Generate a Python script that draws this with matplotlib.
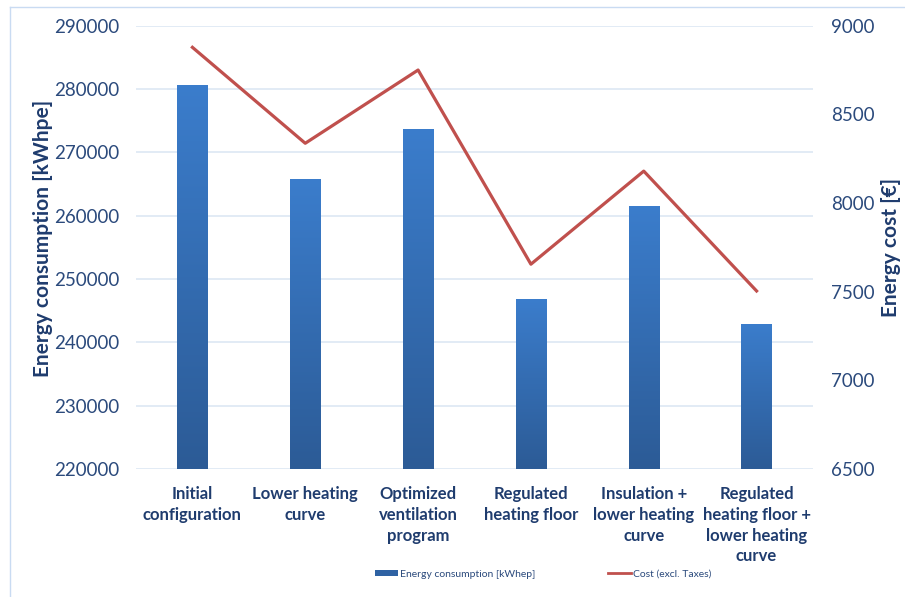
import matplotlib.pyplot as plt
import numpy as np
from matplotlib.colors import LinearSegmentedColormap
from matplotlib.lines import Line2D
from matplotlib.patches import Patch

plt.rcParams['font.family'] = ['Lato', 'DejaVu Sans']

categories = ['Initial\nconfiguration', 'Lower heating\ncurve',
              'Optimized\nventilation\nprogram', 'Regulated\nheating floor',
              'Insulation +\nlower heating\ncurve',
              'Regulated\nheating floor +\nlower heating\ncurve']
consumption = [280700, 265800, 273700, 246900, 261500, 242900]
cost = [8878, 8337, 8750, 7655, 8180, 7504]

text_col = '#2b4a7c'
label_col = '#1f3c6e'
grid_col = '#dde7f3'
line_col = '#c0504d'

fig = plt.figure(figsize=(9.05, 5.97), dpi=100)
ax = fig.add_axes([136 / 905, 1 - 469 / 597, 677 / 905, 443.3 / 597])
ax2 = ax.twinx()

x = np.arange(len(categories))
bars = ax.bar(x, consumption, width=0.27, color='#3a78c4', zorder=2)

# vertical gradient on the bars
cmap = LinearSegmentedColormap.from_list('bar', ['#2c5b96', '#3b7dcc'])
grad = np.linspace(0, 1, 256).reshape(-1, 1)
for b in bars:
    x0 = b.get_x()
    im = ax.imshow(grad, cmap=cmap, aspect='auto', origin='lower',
                   extent=[x0, x0 + b.get_width(), 220000, b.get_height()],
                   zorder=3)
    im.set_clip_path(b)

ax.set_xlim(-0.5, 5.5)
ax.set_ylim(220000, 290000)
ax.set_yticks(np.arange(220000, 290001, 10000))
ax.yaxis.grid(True, color=grid_col, linewidth=1.2, zorder=0)
ax.set_axisbelow(True)
ax.set_xticks(x)
ax.set_xticklabels(categories, fontsize=12, fontweight='bold',
                   color=label_col, linespacing=1.38, va='top')
ax.tick_params(axis='x', length=0, pad=12)
ax.tick_params(axis='y', length=0, pad=12, labelsize=13.5, labelcolor=text_col)
ax.set_ylabel('Energy consumption [kWhpe]', fontsize=15, fontweight='bold',
              color=label_col)
ax.yaxis.set_label_coords(-0.123, 0.52)

ax2.plot(x, cost, color=line_col, linewidth=2.3, zorder=4)
ax2.set_ylim(6500, 9000)
ax2.set_yticks(np.arange(6500, 9001, 500))
ax2.tick_params(axis='y', length=0, pad=13, labelsize=13.5, labelcolor=text_col)
ax2.set_ylabel('Energy cost [€]', fontsize=15, fontweight='bold',
               color=label_col, rotation=90)
ax2.yaxis.set_label_coords(1.100, 0.5)

for a in (ax, ax2):
    for s in a.spines.values():
        s.set_visible(False)

handles = [Patch(facecolor='#2f62a3', edgecolor='none'),
           Line2D([0], [0], color=line_col, linewidth=2)]
fig.legend(handles, ['Energy consumption [kWhep]', 'Cost (excl. Taxes)'],
           loc='center', bbox_to_anchor=(0.600, 0.038), ncol=2, frameon=False,
           fontsize=7.5, labelcolor=text_col, columnspacing=7,
           handlelength=2.2, handleheight=0.5, handletextpad=0.2)

# light chart-area border
border = '#c9dbf2'
fig.add_artist(Line2D([10 / 905, 10 / 905], [0, 1 - 7 / 597],
                      transform=fig.transFigure, color=border, linewidth=1))
fig.add_artist(Line2D([10 / 905, 1], [1 - 7 / 597, 1 - 7 / 597],
                      transform=fig.transFigure, color=border, linewidth=1))

fig.savefig('out.png', dpi=100)
